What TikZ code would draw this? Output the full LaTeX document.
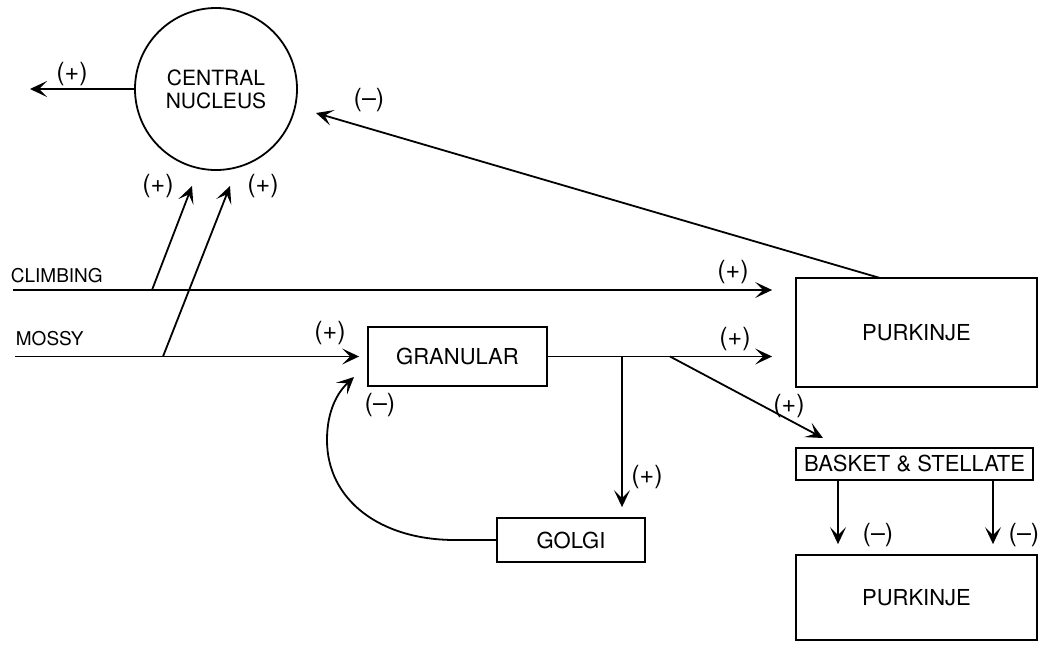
\documentclass[tikz,border=0pt]{standalone}
\usepackage{fontspec}
\setmainfont{TeX Gyre Heros}
\usetikzlibrary{arrows.meta}
\begin{document}
\begin{tikzpicture}[x=1pt,y=-1pt, line width=1.8pt,
  box/.style={draw, rectangle, inner sep=0pt, font=\fontsize{22}{24}\selectfont},
  lbl/.style={font=\fontsize{19}{21}\selectfont, inner sep=0pt, anchor=west},
  sign/.style={font=\fontsize{25}{27}\selectfont, inner sep=0pt},
  arr/.style={-{Stealth[length=17pt,width=16pt,inset=8pt]}}]
\useasboundingbox (0,0) rectangle (1049,664);

% nodes
\node[draw, circle, minimum size=162pt, inner sep=0pt, align=center,
      font=\fontsize{21}{23}\selectfont] (cn) at (216,89) {CENTRAL\\NUCLEUS};
\node[box, minimum width=241pt, minimum height=109pt] (pk1) at (916.5,332.5) {PURKINJE};
\node[box, minimum width=179pt, minimum height=59pt] (gr) at (457.5,356.5) {GRANULAR};
\node[box, minimum width=237pt, minimum height=32pt] (bs) at (914.5,464) {BASKET \& STELLATE};
\node[box, minimum width=241pt, minimum height=85pt] (pk2) at (916.5,597.5) {PURKINJE};
\node[box, minimum width=148pt, minimum height=44pt] (go) at (571,540) {GOLGI};

\node[lbl] (climblbl) at (10,276) {CLIMBING};
\node[lbl] (mossylbl) at (15,339) {MOSSY};

% coordinates
\coordinate (outL) at (30,89);
\coordinate (climbStart) at (13,290);
\coordinate (mossyStart) at (15,356.5);
\coordinate (b1s) at (152,290);
\coordinate (b1e) at (192,186);
\coordinate (b2s) at (163,356.5);
\coordinate (b2e) at (230,186);
\coordinate (split) at (622,356.5);
\coordinate (dsplit) at (670,356.5);
\coordinate (bsin) at (823,438);
\coordinate (pkTop) at (880,278);
\coordinate (cnIn) at (316,113);
\coordinate (bsL) at (838,480);
\coordinate (bsR) at (993,480);
\coordinate (gc1) at (455,540);
\coordinate (gc2) at (327,440);
\coordinate (grIn) at (354,377);

% connectors
\draw[arr] (cn.west) -- (outL);
\draw[arr, shorten >=23pt] (climbStart) -- (pk1.west |- climbStart);
\draw[arr, shorten >=8pt] (mossyStart) -- (gr.west |- mossyStart);
\draw[arr] (b1s) -- (b1e);
\draw[arr] (b2s) -- (b2e);
\draw[arr, shorten >=23pt] (gr.east) -- (pk1.west |- gr.east);
\draw[arr, shorten >=10pt] (split) -- (go.north -| split);
\draw[arr] (dsplit) -- (bsin);
\draw[arr] (pkTop) -- (cnIn);
\draw[arr, shorten >=10pt] (bsL) -- (pk2.north -| bsL);
\draw[arr, shorten >=10pt] (bsR) -- (pk2.north -| bsR);
\draw[arr] (go.west) -- (gc1) .. controls (380,540) and (327,500) .. (gc2)
      .. controls (327,410) and (338,392) .. (grIn);

% signs
\node[sign] (s1) at (72,74) {(+)};
\node[sign] (s2) at (369,100) {(--)};
\node[sign] (s3) at (158,186) {(+)};
\node[sign] (s4) at (263,186) {(+)};
\node[sign] (s5) at (330,333) {(+)};
\node[sign] (s6) at (380,405) {(--)};
\node[sign] (s7) at (733,272) {(+)};
\node[sign] (s8) at (735,339) {(+)};
\node[sign] (s9) at (789,406) {(+)};
\node[sign] (s10) at (647,477) {(+)};
\node[sign] (s11) at (878,535) {(--)};
\node[sign] (s12) at (1024,535) {(--)};
\end{tikzpicture}
\end{document}
